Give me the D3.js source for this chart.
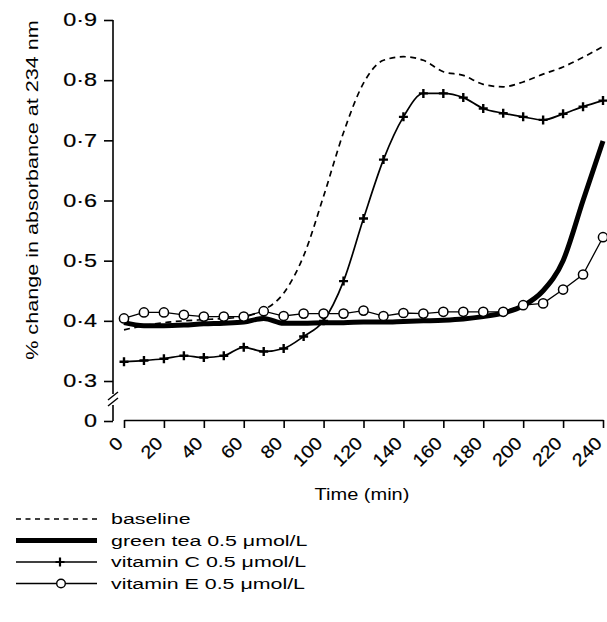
<!DOCTYPE html>
<html>
<head>
<meta charset="utf-8">
<script src="https://cdn.jsdelivr.net/npm/d3@7"></script>
<style>
  body { margin: 0; background: #fff; }
  text { font-family: "Liberation Sans", Arial, sans-serif; fill: #000; }
</style>
</head>
<body>
<div class="main"></div>
<script>
// time points (min)
var times = [0, 10, 20, 30, 40, 50, 60, 70, 80, 90, 100, 110, 120,
    130, 140, 150, 160, 170, 180, 190, 200, 210, 220, 230, 240];

var baseline = [0.385, 0.392, 0.397, 0.400, 0.402, 0.404, 0.407, 0.418, 0.446, 0.508, 0.607, 0.713, 0.795,
    0.833, 0.839, 0.833, 0.814, 0.808, 0.793, 0.789, 0.797, 0.810, 0.822, 0.838, 0.856];
var greenTea = [0.397, 0.392, 0.392, 0.393, 0.395, 0.396, 0.398, 0.404, 0.396, 0.396, 0.397, 0.397, 0.398,
    0.398, 0.399, 0.400, 0.401, 0.403, 0.407, 0.413, 0.425, 0.450, 0.500, 0.600, 0.699];
var vitaminC = [0.332, 0.334, 0.337, 0.342, 0.339, 0.342, 0.356, 0.349, 0.354, 0.374, 0.400, 0.466, 0.570,
    0.668, 0.739, 0.778, 0.778, 0.771, 0.753, 0.745, 0.739, 0.734, 0.744, 0.756, 0.766];
var vitaminE = [0.404, 0.414, 0.414, 0.410, 0.407, 0.407, 0.407, 0.416, 0.408, 0.412, 0.412, 0.412, 0.417,
    0.408, 0.413, 0.412, 0.415, 0.415, 0.415, 0.415, 0.426, 0.429, 0.452, 0.477, 0.539];

var xTicks = [0, 20, 40, 60, 80, 100, 120, 140, 160, 180, 200, 220, 240];
var yTicks = [0, 0.3, 0.4, 0.5, 0.6, 0.7, 0.8, 0.9];

var legendLabels = ['baseline', 'green tea 0.5 \u03bcmol/L', 'vitamin C 0.5 \u03bcmol/L', 'vitamin E 0.5 \u03bcmol/L'];

var W = 607, H = 622;
var svg = d3.select('.main')
    .append('svg')
    .attr('width', W)
    .attr('height', H);

var x = d3.scaleLinear().domain([0, 240]).range([124, 603]);
// broken axis: 0 sits below the break, data lives in 0.3-0.9
var y = d3.scaleLinear().domain([0, 0.3, 0.9]).range([421, 381, 20]);
var axisX = 113, axisY = 420;

// y axis
var gy = svg.append('g')
    .attr('transform', 'translate(' + axisX + ',0)')
    .call(d3.axisLeft(y)
        .tickValues(yTicks)
        .tickSize(9)
        .tickFormat(function (d) { return d === 0 ? '0' : d3.format('.1f')(d).replace('.', '\u00b7'); }));
gy.select('.domain').remove();
gy.selectAll('.tick line').attr('stroke', '#000').attr('stroke-width', 1.6);
gy.selectAll('.tick text')
    .attr('x', -16 / 1.3)
    .attr('transform', 'scale(1.3,1)')
    .style('font-size', '18px')
    .style('font-family', '"Liberation Sans", Arial, sans-serif')
    .style('stroke', '#000')
    .style('stroke-width', '0.2px');

// axis line with break marks
gy.append('line').attr('x1', 0).attr('x2', 0).attr('y1', y(0.9)).attr('y2', 394)
    .attr('stroke', '#000').attr('stroke-width', 1.6);
gy.append('line').attr('x1', 0).attr('x2', 0).attr('y1', 405).attr('y2', y(0))
    .attr('stroke', '#000').attr('stroke-width', 1.6);
gy.selectAll('.brk')
    .data([0, 6])
    .enter()
    .append('line')
    .attr('class', 'brk')
    .attr('x1', -5).attr('x2', 5)
    .attr('y1', function (d) { return 400 + d; })
    .attr('y2', function (d) { return 392 + d; })
    .attr('stroke', '#000').attr('stroke-width', 1.4);

// x axis
var gx = svg.append('g')
    .attr('transform', 'translate(0,' + axisY + ')')
    .call(d3.axisBottom(x).tickValues(xTicks).tickSize(8).tickSizeOuter(0));
gx.select('.domain').attr('stroke', '#000').attr('stroke-width', 1.6);
gx.selectAll('.tick line').attr('stroke', '#000').attr('stroke-width', 1.6);
gx.selectAll('.tick text')
    .attr('x', 0)
    .attr('y', 0)
    .attr('dy', '0.35em')
    .attr('text-anchor', 'end')
    .attr('transform', 'translate(-5,20) rotate(-45) scale(1.1,1)')
    .style('font-size', '18px')
    .style('font-family', '"Liberation Sans", Arial, sans-serif')
    .style('stroke', '#000')
    .style('stroke-width', '0.2px');

// axis titles
svg.append('text')
    .attr('transform', 'translate(38,190) rotate(-90) scale(1.35,1)')
    .attr('text-anchor', 'middle')
    .style('font-size', '16px')
    .text('% change in absorbance at 234 nm');

svg.append('text')
    .attr('transform', 'translate(362,500) scale(1.25,1)')
    .attr('text-anchor', 'middle')
    .style('font-size', '16px')
    .text('Time (min)');

// series
function pts(vals) {
    return times.map(function (t, i) { return [t, vals[i]]; });
}
var line = d3.line()
    .x(function (d) { return x(d[0]); })
    .y(function (d) { return y(d[1]); })
    .curve(d3.curveMonotoneX);
var lineLin = d3.line()
    .x(function (d) { return x(d[0]); })
    .y(function (d) { return y(d[1]); });

svg.append('path')
    .attr('d', line(pts(baseline)))
    .attr('fill', 'none')
    .attr('stroke', '#000')
    .attr('stroke-width', 1.7)
    .attr('stroke-dasharray', '6,4.5');

svg.append('path')
    .attr('d', line(pts(greenTea)))
    .attr('fill', 'none')
    .attr('stroke', '#000')
    .attr('stroke-width', 5);

svg.append('path')
    .attr('d', lineLin(pts(vitaminE)))
    .attr('fill', 'none')
    .attr('stroke', '#000')
    .attr('stroke-width', 1.3);

svg.append('path')
    .attr('d', line(pts(vitaminC)))
    .attr('fill', 'none')
    .attr('stroke', '#000')
    .attr('stroke-width', 1.7);

var plus = 'M-4.5,0H4.5M0,-4.5V4.5';

svg.selectAll('.mc')
    .data(pts(vitaminC))
    .enter()
    .append('path')
    .attr('class', 'mc')
    .attr('d', plus)
    .attr('transform', function (d) { return 'translate(' + [x(d[0]), y(d[1])] + ')'; })
    .attr('stroke', '#000')
    .attr('stroke-width', 2.4);

svg.selectAll('.me')
    .data(pts(vitaminE))
    .enter()
    .append('circle')
    .attr('class', 'me')
    .attr('cx', function (d) { return x(d[0]); })
    .attr('cy', function (d) { return y(d[1]); })
    .attr('r', 4.6)
    .attr('fill', '#fff')
    .attr('stroke', '#000')
    .attr('stroke-width', 1.5);

// legend
var leg = svg.selectAll('.leg')
    .data(legendLabels)
    .enter()
    .append('g')
    .attr('class', 'leg')
    .attr('transform', function (d, i) { return 'translate(0,' + (519 + i * 21.5) + ')'; });

leg.append('line')
    .attr('x1', 16).attr('x2', 97)
    .attr('y1', 0).attr('y2', 0)
    .attr('stroke', '#000')
    .attr('stroke-width', function (d, i) { return [1.6, 5, 1.3, 1.3][i]; })
    .attr('stroke-dasharray', function (d, i) { return i === 0 ? '5,4.5' : null; });

leg.filter(function (d, i) { return i === 2; })
    .append('path')
    .attr('d', plus)
    .attr('transform', 'translate(60,0)')
    .attr('stroke', '#000')
    .attr('stroke-width', 2.2);

leg.filter(function (d, i) { return i === 3; })
    .append('circle')
    .attr('cx', 61).attr('cy', 0).attr('r', 4.3)
    .attr('fill', '#fff')
    .attr('stroke', '#000')
    .attr('stroke-width', 1.4);

leg.append('text')
    .attr('transform', 'translate(111,0) scale(1.38,1)')
    .attr('dy', '0.35em')
    .style('font-size', '15.5px')
    .text(function (d) { return d; });
</script>
</body>
</html>
